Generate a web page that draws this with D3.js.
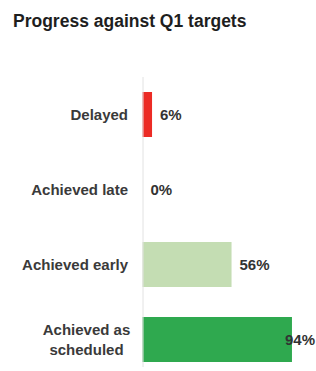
<!DOCTYPE html>
<html>
<head>
<meta charset="utf-8">
<script src="https://cdn.jsdelivr.net/npm/d3@7"></script>
<style>
  html, body { margin: 0; padding: 0; background: #fff; }
  svg text { font-family: "Liberation Sans", Arial, Helvetica, sans-serif; font-weight: bold; }
</style>
</head>
<body>
<div id="chart"></div>
<script>
// data
const categories = ['Delayed', 'Achieved late', 'Achieved early', 'Achieved as scheduled'];
const labelLines = [['Delayed'], ['Achieved late'], ['Achieved early'], ['Achieved as', 'scheduled']];
const values = [6, 0, 56, 94];
const barColors = ['#ec2b25', '#c4ddb3', '#c4ddb3', '#2fa94f'];

const title = 'Progress against Q1 targets';

const config = {
  width: 316,
  height: 371,
  margin: { top: 77, right: 1, bottom: 4, left: 142.5 },
};

const svg = d3
  .select('#chart')
  .append('svg')
  .attr('width', config.width)
  .attr('height', config.height);

svg
  .append('text')
  .attr('x', 13)
  .attr('y', 27)
  .attr('fill', '#1e1e1e')
  .style('font-size', '17.5px')
  .text(title);

const chart = svg
  .append('g')
  .attr('transform', `translate(${config.margin.left},${config.margin.top})`);

const innerH = config.height - config.margin.top - config.margin.bottom;

const x = d3.scaleLinear().domain([0, 100]).range([0, 159]);

const y = d3
  .scaleBand()
  .domain(categories)
  .range([0, 300])
  .paddingInner(0.4)
  .paddingOuter(0.2);

// bars
chart
  .selectAll('rect.bar')
  .data(values)
  .enter()
  .append('rect')
  .attr('class', 'bar')
  .attr('x', 0)
  .attr('y', (d, i) => y(categories[i]))
  .attr('width', (d) => x(d))
  .attr('height', y.bandwidth())
  .attr('fill', (d, i) => barColors[i]);

// axis line
chart
  .append('line')
  .attr('x1', 0.5)
  .attr('x2', 0.5)
  .attr('y1', 0)
  .attr('y2', innerH)
  .attr('stroke', '#e2e2e2')
  .attr('stroke-width', 1);

// category labels
const cat = chart
  .selectAll('text.cat')
  .data(labelLines)
  .enter()
  .append('text')
  .attr('class', 'cat')
  .attr('fill', '#3a3a3a')
  .style('font-size', '15px')
  .attr('text-anchor', (d) => (d.length > 1 ? 'middle' : 'end'));

cat.each(function (lines, i) {
  const t = d3.select(this);
  const cy = y(categories[i]) + y.bandwidth() / 2;
  const lh = 19.5;
  const tx = lines.length > 1 ? -56 : -14.5;
  lines.forEach((ln, j) => {
    t.append('tspan')
      .attr('x', tx)
      .attr('y', cy + 5.5 + (j - (lines.length - 1) / 2) * lh)
      .text(ln);
  });
});

// value labels
const limit = config.width - config.margin.left - config.margin.right;
chart
  .selectAll('text.val')
  .data(values)
  .enter()
  .append('text')
  .attr('class', 'val')
  .attr('fill', '#333')
  .style('font-size', '15px')
  .attr('y', (d, i) => y(categories[i]) + y.bandwidth() / 2 + 5.5)
  .text((d) => d + '%')
  .each(function (d) {
    const w = this.getComputedTextLength();
    let px = x(d) + 8;
    if (px + w > limit) px = limit - w;
    d3.select(this).attr('x', px);
  });
</script>
</body>
</html>
